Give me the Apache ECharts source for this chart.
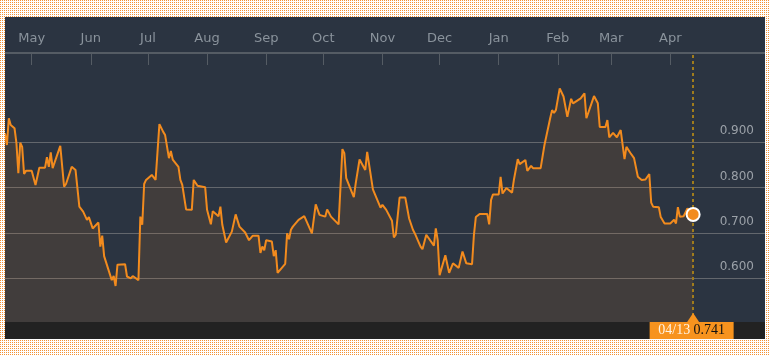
<!DOCTYPE html>
<html><head><meta charset="utf-8">
<script src="https://cdn.jsdelivr.net/npm/echarts@6/dist/echarts.min.js"></script>
<style>
html,body{margin:0;padding:0;width:770px;height:355px;overflow:hidden;}
body{background-color:#fff;background-repeat:repeat;}
#chart{position:absolute;left:5px;top:17px;width:760px;height:322px;background:linear-gradient(#2b3441 0,#2b3441 305px,#222 305px,#222 322px);}
</style></head><body><div id="chart"></div>
<script>
const dates = ['2016-04-17','2016-04-18','2016-04-19','2016-04-20','2016-04-21','2016-04-22','2016-04-23','2016-04-24','2016-04-25','2016-04-26','2016-04-27','2016-04-28',
'2016-05-01','2016-05-03','2016-05-05','2016-05-08','2016-05-09','2016-05-10','2016-05-11','2016-05-12','2016-05-16','2016-05-18','2016-05-19','2016-05-22','2016-05-24','2016-05-26','2016-05-28','2016-05-30','2016-05-31',
'2016-06-01','2016-06-02','2016-06-05','2016-06-06','2016-06-07','2016-06-08','2016-06-09','2016-06-12','2016-06-13','2016-06-14','2016-06-15','2016-06-16','2016-06-19','2016-06-20','2016-06-22','2016-06-23','2016-06-24','2016-06-26','2016-06-27','2016-06-28','2016-06-29','2016-06-30',
'2016-07-03','2016-07-05','2016-07-07','2016-07-09','2016-07-10','2016-07-11','2016-07-12','2016-07-13','2016-07-14','2016-07-17','2016-07-18','2016-07-19','2016-07-21','2016-07-24','2016-07-25','2016-07-26','2016-07-27','2016-07-31',
'2016-08-01','2016-08-02','2016-08-03','2016-08-04','2016-08-07','2016-08-08','2016-08-09','2016-08-10','2016-08-11','2016-08-14','2016-08-16','2016-08-18','2016-08-21','2016-08-22','2016-08-23','2016-08-25','2016-08-28','2016-08-29','2016-08-30','2016-08-31',
'2016-09-01','2016-09-04','2016-09-05','2016-09-06','2016-09-07','2016-09-08','2016-09-11','2016-09-12','2016-09-13','2016-09-14','2016-09-15','2016-09-18','2016-09-19','2016-09-21','2016-09-25','2016-09-26','2016-09-27','2016-09-28','2016-09-29',
'2016-10-02','2016-10-03','2016-10-04','2016-10-05','2016-10-06','2016-10-09','2016-10-10','2016-10-11','2016-10-12','2016-10-13','2016-10-17','2016-10-18','2016-10-19','2016-10-20','2016-10-23','2016-10-24','2016-10-25','2016-10-27','2016-10-31',
'2016-11-01','2016-11-03','2016-11-06','2016-11-07','2016-11-08','2016-11-10','2016-11-13','2016-11-15','2016-11-16','2016-11-17','2016-11-18','2016-11-19','2016-11-21','2016-11-22','2016-11-24','2016-11-28','2016-11-29','2016-11-30',
'2016-12-01','2016-12-04','2016-12-06','2016-12-07','2016-12-08','2016-12-11','2016-12-13','2016-12-15','2016-12-18','2016-12-19','2016-12-20','2016-12-22','2016-12-26','2016-12-27','2016-12-28','2016-12-29',
'2017-01-01','2017-01-02','2017-01-03','2017-01-05','2017-01-08','2017-01-09','2017-01-10','2017-01-11','2017-01-12','2017-01-15','2017-01-16','2017-01-17','2017-01-18','2017-01-19','2017-01-23','2017-01-25','2017-01-28','2017-01-29','2017-01-30','2017-01-31',
'2017-02-02','2017-02-04','2017-02-06','2017-02-08','2017-02-09','2017-02-13','2017-02-14','2017-02-15','2017-02-16','2017-02-20','2017-02-22','2017-02-23','2017-02-26','2017-02-27','2017-02-28',
'2017-03-02','2017-03-04','2017-03-06','2017-03-08','2017-03-09','2017-03-11','2017-03-13','2017-03-15','2017-03-17','2017-03-19','2017-03-21','2017-03-22','2017-03-23','2017-03-26','2017-03-27','2017-03-29',
'2017-04-01','2017-04-03','2017-04-04','2017-04-05','2017-04-06','2017-04-08','2017-04-10','2017-04-13'];
const values = [0.920,0.894,0.953,0.938,0.942,0.931,0.898,0.832,0.899,0.890,0.830,0.837,
0.837,0.806,0.844,0.844,0.867,0.846,0.878,0.843,0.892,0.802,0.808,0.846,0.839,0.758,0.747,0.729,0.735,
0.736,0.710,0.723,0.670,0.694,0.649,0.646,0.596,0.605,0.583,0.630,0.633,0.631,0.604,0.600,0.605,0.602,0.596,0.736,0.718,0.808,0.817,
0.828,0.817,0.940,0.923,0.916,0.920,0.865,0.881,0.862,0.846,0.817,0.806,0.752,0.751,0.817,0.817,0.804,0.801,
0.751,0.751,0.719,0.748,0.737,0.758,0.718,0.714,0.679,0.703,0.741,0.714,0.701,0.704,0.684,0.694,0.694,0.656,0.670,0.662,
0.684,0.681,0.649,0.662,0.612,0.615,0.632,0.699,0.686,0.707,0.714,0.729,0.725,0.737,0.699,0.703,0.763,0.765,0.740,
0.736,0.752,0.748,0.736,0.735,0.719,0.718,0.885,0.876,0.821,0.779,0.810,0.813,0.862,0.839,0.879,0.883,0.796,0.756,
0.762,0.751,0.727,0.690,0.696,0.778,0.778,0.732,0.730,0.707,0.699,0.696,0.670,0.664,0.696,0.672,0.710,0.684,
0.607,0.651,0.612,0.611,0.633,0.623,0.659,0.633,0.631,0.696,0.735,0.742,0.742,0.719,0.773,0.785,
0.785,0.824,0.787,0.799,0.789,0.818,0.818,0.863,0.852,0.861,0.837,0.839,0.848,0.843,0.843,0.894,0.953,0.971,0.965,0.971,
1.019,1.001,0.956,0.996,0.986,0.997,1.001,1.008,0.953,1.002,0.986,0.934,0.934,0.949,0.911,
0.921,0.911,0.927,0.863,0.890,0.877,0.865,0.824,0.817,0.818,0.830,0.767,0.758,0.757,0.735,0.721,
0.721,0.729,0.721,0.757,0.736,0.737,0.754,0.741];
const monthTicks = ['2016-05-01','2016-06-01','2016-07-01','2016-08-01','2016-09-01','2016-10-01','2016-11-01','2016-12-01','2017-01-01','2017-02-01','2017-03-01','2017-04-01'];
const monthLabels = ['May','Jun','Jul','Aug','Sep','Oct','Nov','Dec','Jan','Feb','Mar','Apr'];
const yTicks = [0.6, 0.7, 0.8, 0.9];

// dotted page background (2px pitch orange dots)
(function(){
  const c = document.createElement('canvas'); c.width = 2; c.height = 2;
  const g = c.getContext('2d');
  g.fillStyle = '#ffffff'; g.fillRect(0,0,2,2);
  g.fillStyle = '#f39236'; g.fillRect(0,0,1,1);
  document.body.style.backgroundImage = 'url(' + c.toDataURL() + ')';
})();

function ts(s){const p=s.split('-').map(Number);return new Date(p[0],p[1]-1,p[2]).getTime();}
const seriesData = dates.map((d,i)=>[ts(d), values[i]]);
const tickTs = monthTicks.map(ts);
const lastIdx = dates.length-1;
const lastTs = ts(dates[lastIdx]);
const lastVal = values[lastIdx];
const xMin = ts('2016-04-17');
const xMax = xMin + 398.7*86400000;
const yMin = 0.5036, yMax = 1.097;
const lp = dates[lastIdx].split('-');
const lastLabel = '{d|' + lp[1] + '/' + lp[2] + '} {v|' + lastVal.toFixed(3) + '}';

const chart = echarts.init(document.getElementById('chart'), null, {renderer:'canvas'});
chart.setOption({
  animation:false,
  backgroundColor:'transparent',
  grid:{left:0,right:0,top:36,bottom:17,containLabel:false},
  xAxis:{
    type:'value', position:'top', min:xMin, max:xMax, scale:true,
    axisLine:{show:true,lineStyle:{color:'#555c64',width:2}},
    axisTick:{show:true,inside:true,length:12,customValues:tickTs,lineStyle:{color:'#555c64',width:1}},
    axisLabel:{show:true,customValues:tickTs,margin:8,color:'#8a939c',fontSize:13,fontFamily:'DejaVu Sans',
      formatter:function(v){const i=tickTs.indexOf(v);return i>=0?monthLabels[i]:'';}},
    splitLine:{show:false}
  },
  yAxis:{
    type:'value', position:'right', min:yMin, max:yMax,
    axisLine:{show:false},
    axisTick:{show:false,customValues:yTicks},
    splitLine:{show:true,lineStyle:{color:'#63676d',width:1}},
    axisLabel:{customValues:yTicks,inside:true,margin:11,verticalAlign:'bottom',padding:[0,0,5,0],color:'#9ba1a8',fontSize:12,fontFamily:'DejaVu Sans',
      formatter:function(v){return v.toFixed(3);}}
  },
  series:[{
    type:'line', data:seriesData, showSymbol:false, smooth:false,
    lineStyle:{color:'#f28b1e',width:2},
    itemStyle:{color:'#f28b1e'},
    areaStyle:{color:'rgba(242,140,30,0.155)'},
    markLine:{silent:true,symbol:['none','none'],label:{show:false},
      lineStyle:{color:'#a07c1c',type:[3,3],width:2},
      data:[{xAxis:lastTs}]},
    markPoint:{silent:true,data:[
      {coord:[lastTs,yMin],symbol:'triangle',symbolSize:[12,9],symbolOffset:[0,-4.5],itemStyle:{color:'#f7931e',borderWidth:0},label:{show:false}},
      {coord:[lastTs,yMin],symbol:'rect',symbolSize:[84,17],symbolOffset:[-1.5,8.5],itemStyle:{color:'#f7931e',borderWidth:0},
        label:{show:true,position:'inside',formatter:lastLabel,
          rich:{d:{color:'#fff4e4',fontFamily:'Liberation Serif',fontSize:14},v:{color:'#111111',fontFamily:'Liberation Serif',fontSize:14}}}},
      {coord:[lastTs,lastVal],symbol:'circle',symbolSize:13,itemStyle:{color:'#f28b1e',borderColor:'#ffffff',borderWidth:2},label:{show:false}}
    ]}
  }]
});
</script></body></html>
